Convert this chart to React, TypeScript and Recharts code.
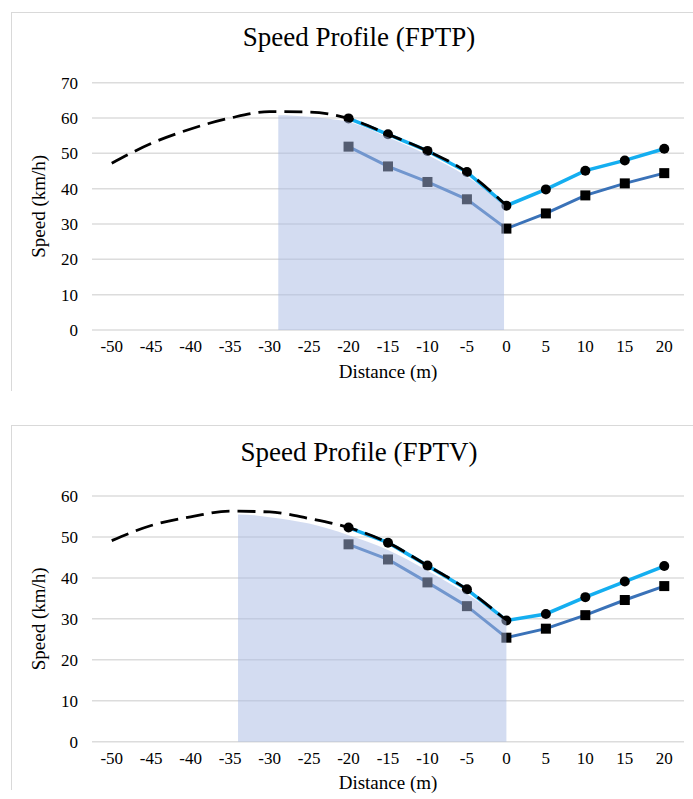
import React from 'react'
import {
  ComposedChart,
  Line,
  Area,
  XAxis,
  YAxis,
  CartesianGrid,
  Label,
} from 'recharts'

// shared axes
const distance = [-20, -15, -10, -5, 0, 5, 10, 15, 20]
const xTicks = [-50, -45, -40, -35, -30, -25, -20, -15, -10, -5, 0, 5, 10, 15, 20]
const trendX = [-50, -45, -40, -35, -30, -25, -20, -15, -10, -5, 0]

// FPTP
const fptpCircle = [59.9, 55.4, 50.7, 44.7, 35.2, 39.8, 45.1, 48.0, 51.3]
const fptpSquare = [51.9, 46.3, 41.9, 37.0, 28.7, 33.0, 38.1, 41.5, 44.4]
const fptpTrend = [47.2, 52.8, 56.9, 60.0, 61.8, 61.7, 59.9, 55.4, 50.7, 44.7, 35.2]
const fptpAreaX = [-28.9, -27, -25, -22.5, -20, -15, -10, -5, -0.3]
const fptpAreaTop = [60.6, 60.5, 60.2, 59.6, 58.7, 54.3, 49.2, 43.0, 34.8]
const fptpYTicks = [0, 10, 20, 30, 40, 50, 60, 70]

// FPTV
const fptvCircle = [52.3, 48.6, 43.0, 37.2, 29.6, 31.2, 35.3, 39.1, 42.9]
const fptvSquare = [48.2, 44.5, 38.9, 33.1, 25.4, 27.6, 30.9, 34.6, 38.0]
const fptvTrend = [49.1, 52.8, 54.9, 56.3, 56.1, 54.5, 52.3, 48.6, 43.0, 37.2, 29.6]
const fptvAreaX = [-34, -32, -30, -25, -20, -15, -10, -5, 0]
const fptvAreaTop = [55.4, 55.2, 54.7, 53.1, 50.2, 46.5, 41.3, 35.5, 28.6]
const fptvYTicks = [0, 10, 20, 30, 40, 50, 60]

const FONT = "'Liberation Serif', serif"

const toPoints = (xs: number[], ys: number[]) => xs.map((x, i) => ({ x, y: ys[i] }))
const toRange = (xs: number[], ys: number[], base: number) =>
  xs.map((x, i) => ({ x, range: [base, ys[i]] }))

const SquareDot = (props: any) => {
  const { cx, cy, index } = props
  if (cx == null || cy == null) return <g key={index} />
  return <rect key={index} x={cx - 5} y={cy - 5} width={10} height={10} fill="#000" />
}

interface PanelProps {
  top: number
  height: number
  marginTop: number
  marginBottom: number
  title: string
  yMax: number
  yTicks: number[]
  circles: number[]
  squares: number[]
  trend: number[]
  areaX: number[]
  areaTop: number[]
  areaBase: number
  frameTop: number
  titleTop: number
}

function Panel(p: PanelProps) {
  const margin = { top: p.marginTop, right: 9, bottom: p.marginBottom, left: 0 }
  return (
    <>
      <div
        style={{
          position: 'absolute',
          left: 11,
          top: p.frameTop,
          width: 700,
          height: p.height + p.top - p.frameTop - 10,
          borderTop: '1px solid #d9d9d9',
          borderLeft: '1px solid #d9d9d9',
        }}
      />
      <div
        style={{
          position: 'absolute',
          left: 159,
          top: p.titleTop,
          width: 400,
          textAlign: 'center',
          fontFamily: FONT,
          fontSize: 27,
          lineHeight: '27px',
          color: '#000',
        }}
      >
        {p.title}
      </div>
      <div style={{ position: 'absolute', left: 0, top: p.top }}>
        <ComposedChart width={693} height={p.height} margin={margin}>
          <CartesianGrid vertical={false} stroke="#dcdcdc" strokeWidth={1.5} />
          <XAxis
            dataKey="x"
            type="number"
            domain={[-52.5, 22.5]}
            ticks={xTicks}
            axisLine={false}
            tickLine={false}
            tickMargin={4}
            height={50}
            tick={{ fill: '#000', fontSize: 17, fontFamily: FONT }}
          >
            <Label
              content={(props: any) => {
                const vb = props.viewBox || {}
                return (
                  <text
                    x={vb.x + vb.width / 2}
                    y={vb.y + 41}
                    textAnchor="middle"
                    dominantBaseline="central"
                    fontSize={19}
                    fontFamily={FONT}
                    fill="#000"
                  >
                    Distance (m)
                  </text>
                )
              }}
            />
          </XAxis>
          <YAxis
            type="number"
            domain={[0, p.yMax]}
            ticks={p.yTicks}
            axisLine={false}
            tickLine={false}
            tickMargin={8}
            width={92}
            tick={{ fill: '#000', fontSize: 17, fontFamily: FONT }}
          >
            <Label
              content={(props: any) => {
                const vb = props.viewBox || {}
                const cx = 39
                const cy = vb.y + vb.height / 2
                return (
                  <text
                    x={cx}
                    y={cy}
                    transform={`rotate(-90 ${cx} ${cy})`}
                    textAnchor="middle"
                    dominantBaseline="central"
                    fontSize={19}
                    fontFamily={FONT}
                    fill="#000"
                  >
                    Speed (km/h)
                  </text>
                )
              }}
            />
          </YAxis>
          <Line
            data={toPoints(distance, p.squares)}
            dataKey="y"
            type="linear"
            stroke="#3a72b8"
            strokeWidth={3}
            dot={SquareDot}
            activeDot={false}
            isAnimationActive={false}
          />
          <Line
            data={toPoints(distance, p.circles)}
            dataKey="y"
            type="linear"
            stroke="#14aef0"
            strokeWidth={3.5}
            dot={{ r: 5, fill: '#000', stroke: '#000', strokeWidth: 0 }}
            activeDot={false}
            isAnimationActive={false}
          />
          <Line
            data={toPoints(trendX, p.trend)}
            dataKey="y"
            type="monotone"
            stroke="#000"
            strokeWidth={2.8}
            strokeDasharray="18 8"
            dot={false}
            activeDot={false}
            isAnimationActive={false}
          />
        </ComposedChart>
      </div>
      {/* shaded zone sits over the lines, same scales */}
      <div style={{ position: 'absolute', left: 0, top: p.top, pointerEvents: 'none' }}>
        <ComposedChart width={693} height={p.height} margin={margin}>
          <XAxis
            dataKey="x"
            type="number"
            domain={[-52.5, 22.5]}
            ticks={xTicks}
            axisLine={false}
            tickLine={false}
            tick={false}
            height={50}
          />
          <YAxis
            type="number"
            domain={[0, p.yMax]}
            ticks={p.yTicks}
            axisLine={false}
            tickLine={false}
            tick={false}
            width={92}
          />
          <Area
            data={toRange(p.areaX, p.areaTop, p.areaBase)}
            dataKey="range"
            type="monotone"
            stroke="none"
            fill="#a8b9e3"
            fillOpacity={0.5}
            activeDot={false}
            isAnimationActive={false}
          />
        </ComposedChart>
      </div>
    </>
  )
}

export default function App() {
  return (
    <div style={{ position: 'absolute', left: 0, top: 0, width: 693, height: 799, overflow: 'hidden' }}>
      <Panel
        top={0}
        height={400}
        marginTop={82.7}
        marginBottom={20}
        title="Speed Profile (FPTP)"
        yMax={70}
        yTicks={fptpYTicks}
        circles={fptpCircle}
        squares={fptpSquare}
        trend={fptpTrend}
        areaX={fptpAreaX}
        areaTop={fptpAreaTop}
        areaBase={-1.2}
        frameTop={12}
        titleTop={24}
      />
      <Panel
        top={400}
        height={399}
        marginTop={96}
        marginBottom={7.3}
        title="Speed Profile (FPTV)"
        yMax={60}
        yTicks={fptvYTicks}
        circles={fptvCircle}
        squares={fptvSquare}
        trend={fptvTrend}
        areaX={fptvAreaX}
        areaTop={fptvAreaTop}
        areaBase={-1.5}
        frameTop={425}
        titleTop={439}
      />
    </div>
  )
}
